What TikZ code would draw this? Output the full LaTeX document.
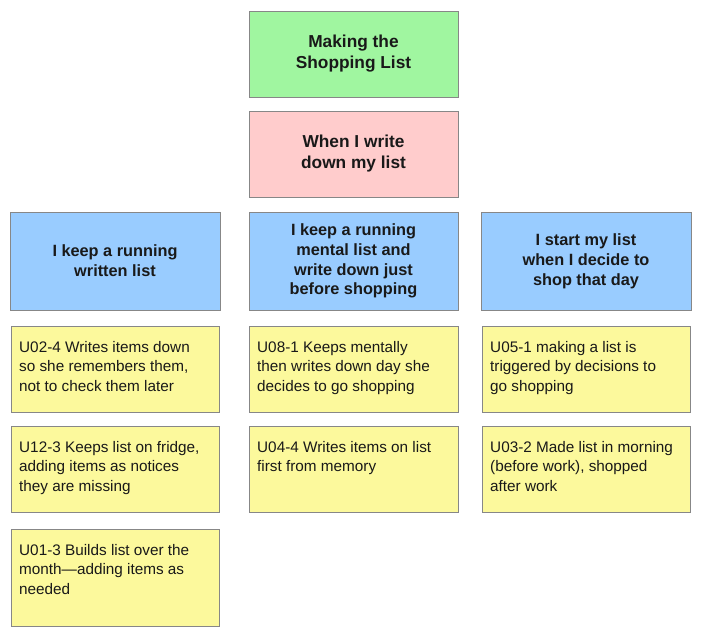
\documentclass[tikz,border=0pt]{standalone}
\usepackage{fontspec}
\setmainfont{Liberation Sans}
\definecolor{bgreen}{RGB}{160,246,160}
\definecolor{bpink}{RGB}{255,204,204}
\definecolor{bblue}{RGB}{153,204,255}
\definecolor{byellow}{RGB}{252,249,156}
\definecolor{bline}{RGB}{135,135,135}
\begin{document}
\begin{tikzpicture}[x=1pt,y=-1pt,
  box/.style={draw=bline, line width=0.9pt, inner sep=0pt, outer sep=0pt, anchor=north west},
  hdr/.style={box, align=center, font=\bfseries\fontsize{16.3}{19.8}\selectfont, text=black!90},
  bighdr/.style={hdr, font=\bfseries\fontsize{17.3}{21}\selectfont},
  card/.style={box, fill=byellow},
  cardtext/.style={anchor=north west, inner sep=0pt, align=left, font=\fontsize{15.3}{19.4}\selectfont, text=black!90}
]
\useasboundingbox (0,0) rectangle (702,637);
% headers
\node[bighdr, fill=bgreen, minimum width=209pt, minimum height=86pt] (title) at (249,11) {Making the\\Shopping List};
\node[bighdr, fill=bpink, minimum width=209pt, minimum height=86pt] (when) at (249,111) {When I write\\down my list};
\node[hdr, fill=bblue, minimum width=210pt, minimum height=98pt] (c1) at (10,212) {I keep a running\\written list};
\node[hdr, fill=bblue, minimum width=209pt, minimum height=98pt] (c2) at (249,212) {I keep a running\\mental list and\\write down just\\before shopping};
\node[hdr, fill=bblue, minimum width=210pt, minimum height=98pt] (c3) at (481,212) {I start my list\\when I decide to\\shop that day};
% cards
\node[card, minimum width=208pt, minimum height=86pt] (a1) at (11,326) {};
\node[card, minimum width=208pt, minimum height=86pt] (a2) at (11,426) {};
\node[card, minimum width=208pt, minimum height=97pt] (a3) at (11,529) {};
\node[card, minimum width=209pt, minimum height=86pt] (b1) at (249,326) {};
\node[card, minimum width=209pt, minimum height=86pt] (b2) at (249,426) {};
\node[card, minimum width=208pt, minimum height=86pt] (d1) at (482,326) {};
\node[card, minimum width=208pt, minimum height=86pt] (d2) at (482,426) {};
% card texts
\node[cardtext] (a1t) at ([xshift=8pt,yshift=-15pt]a1.north west) {U02-4 Writes items down\\so she remembers them,\\not to check them later};
\node[cardtext] (a2t) at ([xshift=8pt,yshift=-15pt]a2.north west) {U12-3 Keeps list on fridge,\\adding items as notices\\they are missing};
\node[cardtext] (a3t) at ([xshift=8pt,yshift=-15pt]a3.north west) {U01-3 Builds list over the\\month—adding items as\\needed};
\node[cardtext] (b1t) at ([xshift=8pt,yshift=-15pt]b1.north west) {U08-1 Keeps mentally\\then writes down day she\\decides to go shopping};
\node[cardtext] (b2t) at ([xshift=8pt,yshift=-15pt]b2.north west) {U04-4 Writes items on list\\first from memory};
\node[cardtext] (d1t) at ([xshift=8pt,yshift=-15pt]d1.north west) {U05-1 making a list is\\triggered by decisions to\\go shopping};
\node[cardtext] (d2t) at ([xshift=8pt,yshift=-15pt]d2.north west) {U03-2 Made list in morning\\(before work), shopped\\after work};
\end{tikzpicture}
\end{document}
